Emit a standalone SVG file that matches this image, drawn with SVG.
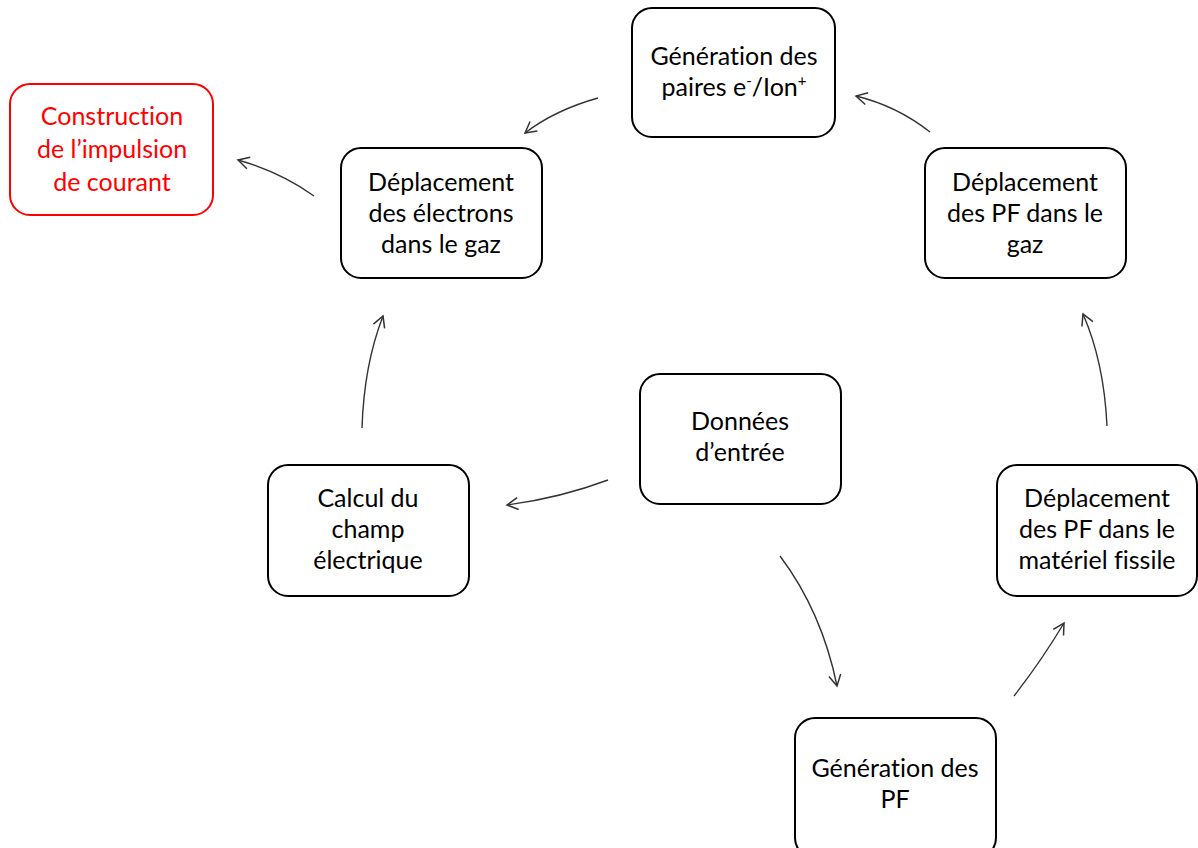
<svg xmlns="http://www.w3.org/2000/svg" width="1198" height="848" viewBox="0 0 1198 848">
<style>
.box{fill:#fff;stroke:#000;stroke-width:2}
.red{fill:#fff;stroke:#f00;stroke-width:2}
text{font-family:Lato,"Open Sans","Liberation Sans",sans-serif;font-size:25px;text-anchor:middle;fill:#000;font-variant-ligatures:none}
.rt{fill:#f00}
.c{fill:none;stroke:#333;stroke-width:1.4}
</style>
<defs>
<marker id="a" markerWidth="16" markerHeight="16" refX="13" refY="8" orient="auto" markerUnits="userSpaceOnUse">
<path d="M2,2 L13,8 L2,14" fill="none" stroke="#333" stroke-width="1.5"/>
</marker>
</defs>
<g id="connectors">
<path class="c" marker-end="url(#a)" d="M598,98 Q555,110 525,133"/>
<path class="c" marker-end="url(#a)" d="M314,196 Q280,172 238,160"/>
<path class="c" marker-end="url(#a)" d="M930,132 Q897,106 856,96"/>
<path class="c" marker-end="url(#a)" d="M362,428 Q364,365 383,316"/>
<path class="c" marker-end="url(#a)" d="M1107,426 Q1104,362 1083,314"/>
<path class="c" marker-end="url(#a)" d="M608,480 Q560,498 507,505"/>
<path class="c" marker-end="url(#a)" d="M780,556 Q822,612 837,686"/>
<path class="c" marker-end="url(#a)" d="M1014,696 Q1042,660 1064,623"/>
</g>
<g id="n-gen-paires"><rect class="box" x="632" y="8" width="203" height="129" rx="20"/>
<text x="734" y="65">Génération des</text><text x="734" y="96">paires e<tspan font-size="15" dy="-10">-</tspan><tspan dy="10">/Ion</tspan><tspan font-size="15" dy="-10">+</tspan></text></g>
<g id="n-construction"><rect class="red" x="10" y="84" width="203" height="131" rx="20"/>
<text class="rt" x="112" y="125">Construction</text><text class="rt" x="112" y="158">de l’impulsion</text><text class="rt" x="112" y="191">de courant</text></g>
<g id="n-dep-electrons"><rect class="box" x="341" y="148" width="201" height="130" rx="20"/>
<text x="441" y="191">Déplacement</text><text x="441" y="222">des électrons</text><text x="441" y="253">dans le gaz</text></g>
<g id="n-dep-pf-gaz"><rect class="box" x="925" y="148" width="201" height="130" rx="20"/>
<text x="1025" y="191">Déplacement</text><text x="1025" y="222">des PF dans le</text><text x="1025" y="253">gaz</text></g>
<g id="n-donnees"><rect class="box" x="640" y="374" width="201" height="130" rx="20"/>
<text x="740" y="430">Données</text><text x="740" y="461">d’entrée</text></g>
<g id="n-calcul"><rect class="box" x="268" y="465" width="201" height="131" rx="20"/>
<text x="368" y="507">Calcul du</text><text x="368" y="538">champ</text><text x="368" y="569">électrique</text></g>
<g id="n-dep-pf-mat"><rect class="box" x="997" y="465" width="200" height="131" rx="20"/>
<text x="1097" y="507">Déplacement</text><text x="1097" y="538">des PF dans le</text><text x="1097" y="569">matériel fissile</text></g>
<g id="n-gen-pf"><rect class="box" x="795" y="718" width="201" height="140" rx="20"/>
<text x="895" y="777">Génération des</text><text x="895" y="808">PF</text></g>
</svg>
